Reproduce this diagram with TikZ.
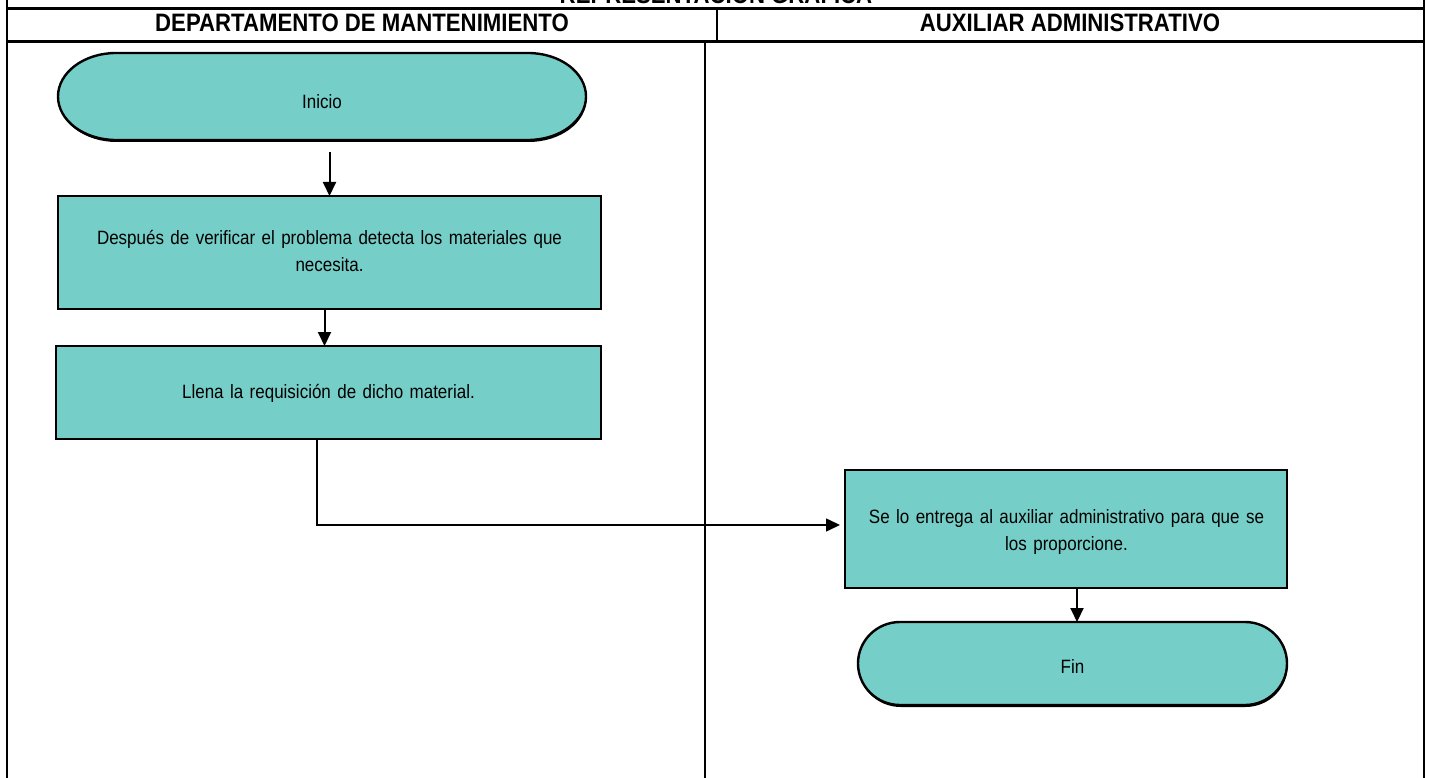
\documentclass[tikz,border=0pt]{standalone}
\usepackage{fontspec}
\setmainfont{Liberation Sans}[FakeStretch=0.88]
\usetikzlibrary{arrows.meta,backgrounds}
\definecolor{tealfill}{RGB}{118,206,200}
\newcommand\termshape[3]{%
  \begin{scope}[on background layer]
    \fill[black,transform canvas={xshift=0.6pt,yshift=-2pt}]
      ([xshift=#2]#1.north west) -- ([xshift=-#2]#1.north east)
      arc[start angle=90,end angle=-90,x radius=#2,y radius=#3]
      -- ([xshift=#2]#1.south west)
      arc[start angle=270,end angle=90,x radius=#2,y radius=#3] -- cycle;
    \draw[termline]
      ([xshift=#2]#1.north west) -- ([xshift=-#2]#1.north east)
      arc[start angle=90,end angle=-90,x radius=#2,y radius=#3]
      -- ([xshift=#2]#1.south west)
      arc[start angle=270,end angle=90,x radius=#2,y radius=#3] -- cycle;
  \end{scope}}
\begin{document}
\begin{tikzpicture}[x=1pt,y=-1pt,
  box/.style={rectangle,draw=black,fill=tealfill,line width=2.6pt,inner sep=0pt,outer sep=0pt},
  term/.style={rectangle,inner sep=0pt,outer sep=0pt,font=\fontsize{19.3}{28}\selectfont,text height=20pt,text depth=0pt},
  termline/.style={draw=black,fill=tealfill,line width=2.4pt},
  txt/.style={font=\fontsize{19.3}{27.5}\selectfont,align=center,anchor=base,inner sep=0pt},
  hdr/.style={font=\fontsize{25.2}{28}\selectfont\bfseries,anchor=base,inner sep=0pt},
  arr/.style={line width=2pt,-{Triangle[length=14pt,width=13pt]}},
  lane/.style={line width=1.6pt}]
\useasboundingbox (0,0) rectangle (1430,778);
\clip (0,0) rectangle (1430,778);

% table
\draw[lane,line width=2.2pt] (7,0) -- (7,778);
\draw[lane,line width=2.2pt] (1424,0) -- (1424,778);
\draw[lane,line width=2.2pt] (7,8.5) -- (1424,8.5);
\draw[lane,line width=3.8pt] (7,41.5) -- (1424,41.5);
\draw[lane] (717,8.5) -- (717,41.5);
\draw[lane] (705,41.5) -- (705,778);

\node[hdr] (title) at (716,3.5) {REPRESENTACION GRAFICA};
\node[hdr] (h1) at (362,31.5) {DEPARTAMENTO DE MANTENIMIENTO};
\node[hdr] (h2) at (1070,31.5) {AUXILIAR ADMINISTRATIVO};

% nodes
\node[term,text height=25pt,minimum width=528pt,minimum height=87pt] (ini) at (322,96.5) {Inicio};
\termshape{ini}{58pt}{43.5pt}

\node[box,minimum width=543pt,minimum height=113pt] (b1) at (329.5,252.5) {};
\node[txt,text width=520pt] (t1) at (329.5,244) {Después de verificar el problema detecta los materiales que\\necesita.};

\node[box,minimum width=545pt,minimum height=93pt] (b2) at (328.5,392.5) {};
\node[txt,text width=520pt] (t2) at (328.5,398) {Llena la requisición de dicho material.};

\node[box,minimum width=442pt,minimum height=118pt] (b3) at (1066,529) {};
\node[txt,text width=420pt] (t3) at (1066.5,523) {Se lo entrega al auxiliar administrativo para que se\\los proporcione.};

\node[term,minimum width=429pt,minimum height=83pt] (fin) at (1072.5,663.5) {Fin};
\termshape{fin}{42pt}{41.5pt}

% connectors
\coordinate (a1) at ([yshift=-12pt]ini.south);
\draw[arr] (a1 -| b1.north) -- (b1.north);
\coordinate (a2) at ([xshift=-5pt]b1.south);
\draw[arr] (a2) -- (a2 |- b2.north);
\coordinate (a3) at ([xshift=11pt]b3.south);
\draw[arr] (a3) -- (a3 |- fin.north);
\coordinate (c0) at ([xshift=-11.5pt]b2.south);
\coordinate (c1) at ([xshift=-5pt,yshift=4pt]b3.west);
\draw[arr,line width=1.5pt] (c0) |- (c1);
\end{tikzpicture}
\end{document}
